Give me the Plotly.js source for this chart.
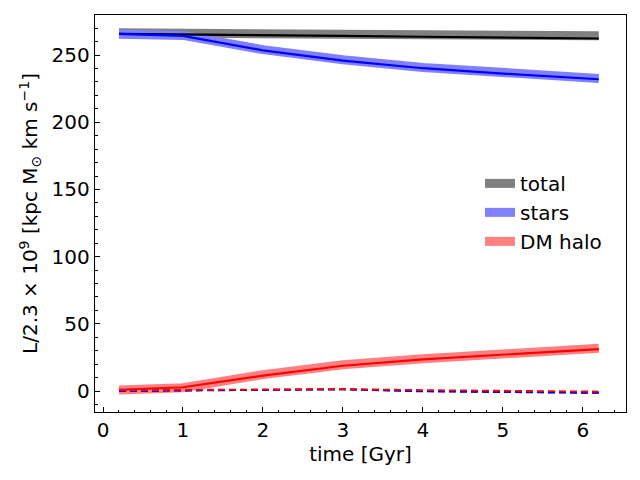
<!DOCTYPE html>
<html>
<head>
<meta charset="utf-8">
<script src="https://cdn.plot.ly/plotly-3.0.1.min.js"></script>
<style>
  html, body { margin: 0; padding: 0; background: #fff; }
  #chart { width: 640px; height: 480px; }
</style>
</head>
<body>
<div id="chart"></div>
<script>
// snapshot times [Gyr]
const time = [0.2, 1, 2, 3, 4, 5, 6.2];

// |L| per component
const totalThick = [266.5, 266.3, 266.0, 265.6, 265.2, 264.8, 264.4];
const totalThin = [265.8, 265.5, 264.9, 264.3, 263.6, 263.0, 262.3];
const starsThick = [265.4, 264.6, 254.0, 246.5, 240.8, 236.7, 232.6];
const starsThin = [265.8, 264.2, 253.5, 245.9, 240.2, 236.2, 232.0];
const haloThick = [0.8, 2.4, 12.2, 19.6, 24.0, 27.2, 31.8];
const haloThin = [0.8, 2.8, 11.4, 18.8, 23.6, 26.9, 31.2];

// second component, drawn dashed
const totalDash = [0.2, 0.6, 0.9, 1.3, 0.0, -0.6, -1.3];
const starsDash = [0.0, 0.5, 0.8, 1.2, -0.3, -0.8, -1.4];
const haloDash = [0.6, 0.9, 1.0, 1.5, 0.7, 0.2, -0.4];

const FONT = "DejaVu Sans, sans-serif";

function thick(y, color, name) {
  return {
    x: time, y, name, type: "scatter", mode: "lines",
    line: { color, width: 9 }, showlegend: true,
  };
}
function thin(y, color, dash) {
  return {
    x: time, y, type: "scatter", mode: "lines", showlegend: false,
    line: { color, width: dash ? 1.8 : 2.2, dash: dash ? "7px,4px" : "solid" },
  };
}

const traces = [
  thick(totalThick, "#808080", "total"),
  thick(starsThick, "#8080ff", "stars"),
  thick(haloThick, "#ff8080", "DM halo"),
  thin(totalThin, "#000000"),
  thin(starsThin, "#0000ff"),
  thin(haloThin, "#ff0000"),
  thin(totalDash, "#1a1a40", true),
  thin(starsDash, "#0000ff", true),
  thin(haloDash, "#ff0000", true),
];

const axisBase = {
  showline: true, mirror: true, linecolor: "#000", linewidth: 1.2,
  showgrid: false, zeroline: false,
  ticks: "inside", ticklen: 5, tickwidth: 1, tickcolor: "#000",
  tickfont: { family: FONT, size: 20, color: "#000" },
};

const layout = {
  width: 640, height: 480,
  paper_bgcolor: "#fff", plot_bgcolor: "#fff",
  margin: { l: 95, r: 14, t: 15, b: 68 },
  font: { family: FONT, color: "#000" },
  xaxis: {
    ...axisBase,
    range: [-0.1, 6.54],
    dtick: 1,
    minor: { dtick: 0.2, ticks: "inside", ticklen: 2.5, tickcolor: "#000" },
    title: { text: "time [Gyr]", font: { family: FONT, size: 20 }, standoff: 4 },
  },
  yaxis: {
    ...axisBase,
    range: [-15.6, 279.8],
    dtick: 50,
    minor: { dtick: 10, ticks: "inside", ticklen: 2.5, tickcolor: "#000" },
    title: {
      text: "L/2.3 × 10<sup>9</sup> [kpc M<sub>⊙</sub> km s<sup>−1</sup>]",
      font: { family: FONT, size: 20 }, standoff: 8,
    },
  },
  legend: {
    x: 0.725, y: 0.625, xanchor: "left", yanchor: "top",
    bgcolor: "rgba(0,0,0,0)", borderwidth: 0,
    font: { family: FONT, size: 20, color: "#000" },
    tracegroupgap: 0,
  },
  showlegend: true,
};

Plotly.newPlot("chart", traces, layout, { displayModeBar: false, staticPlot: true });
</script>
</body>
</html>
